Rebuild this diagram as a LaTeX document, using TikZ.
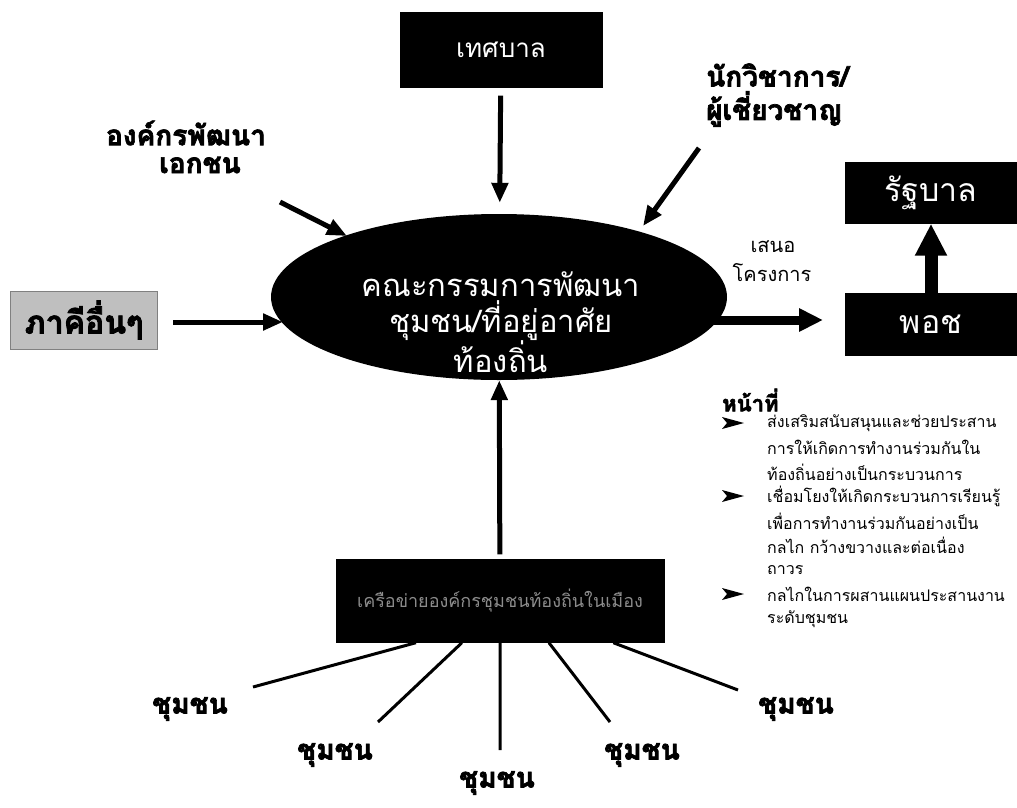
\documentclass[tikz,border=0pt]{standalone}
\usepackage{fontspec}
\newfontfamily\thai[Script=Thai]{Loma}
\newfontfamily\thaiheavy[Script=Thai,FakeBold=2.5]{Loma}
\usetikzlibrary{arrows.meta,shapes.geometric,calc}
\newcommand\tf[2]{\fontsize{#1}{#2}\selectfont}
\begin{document}
\begin{tikzpicture}[x=1pt,y=-1pt,
  font=\thai,
  blackbox/.style={draw=black,fill=black,text=white,inner sep=0pt},
  boldlbl/.style={font=\thaiheavy\bfseries\tf{28}{30},inner sep=0pt},
  arr/.style={line width=5pt,-{Triangle[length=20pt,width=16pt]}},
  fatarr/.style={line width=9pt,-{Triangle[length=24pt,width=22pt]}},
  bigarr/.style={line width=13pt,-{Triangle[length=32pt,width=30pt]}},
  spoke/.style={line width=3pt},
  bul/.style={anchor=west,inner sep=0pt,font=\thai\tf{16}{18}},
  bulmark/.style={fill=black}]
\useasboundingbox[fill=white] (0,0) rectangle (1017,807);

% top box
\node[blackbox,minimum width=202pt,minimum height=75pt,font=\thai\tf{26}{30}] (tes) at (501,50) {เทศบาล};

% labels
\node[boldlbl] (ngo1) at (186,133) {องค์กรพัฒนา};
\node[boldlbl] (ngo2) at (200,165) {เอกชน};
\node[boldlbl,anchor=west] (exp1) at (706,75) {นักวิชาการ/};
\node[boldlbl,anchor=west] (exp2) at (706,109) {ผู้เชี่ยวชาญ};

% central ellipse
\node[ellipse,fill=black,minimum width=456pt,minimum height=166pt,inner sep=0pt] (com) at (499,297) {};
\node[text=white,font=\thai\tf{31}{36},inner sep=0pt] (com1) at (501,284) {คณะกรรมการพัฒนา};
\node[text=white,font=\thai\tf{31}{36},inner sep=0pt] (com2) at (501,321) {ชุมชน/ที่อยู่อาศัย};
\node[text=white,font=\thai\tf{31}{36},inner sep=0pt] (com3) at (501,357) {ท้องถิ่น};

% left partner box
\node[draw=black!50,fill=black!25,minimum width=147pt,minimum height=58pt,inner sep=0pt,
      font=\thaiheavy\bfseries\tf{32}{34}] (bhaki) at (84,320) {ภาคีอื่นๆ};

% right boxes
\node[blackbox,minimum width=172pt,minimum height=61pt,font=\thai\tf{32}{36}] (rat) at (931,193) {รัฐบาล};
\node[blackbox,minimum width=172pt,minimum height=62pt,font=\thai\tf{32}{36}] (podh) at (931,324) {พอช};
\node[inner sep=0pt,font=\thai\tf{20}{22}] (sn1) at (773,247) {เสนอ};
\node[inner sep=0pt,font=\thai\tf{20}{22}] (sn2) at (772,273) {โครงการ};

% duties
\node[anchor=west,inner sep=0pt,font=\thaiheavy\bfseries\tf{22}{26}] (duty) at (722,400) {หน้าที่};
\node[bul] (b11) at (767,423) {ส่งเสริมสนับสนุนและช่วยประสาน};
\node[bul] (b12) at (767,447) {การให้เกิดการทำงานร่วมกันใน};
\node[bul] (b13) at (767,472) {ท้องถิ่นอย่างเป็นกระบวนการ};
\node[bul] (b21) at (767,496) {เชื่อมโยงให้เกิดกระบวนการเรียนรู้};
\node[bul] (b22) at (767,521) {เพื่อการทำงานร่วมกันอย่างเป็น};
\node[bul] (b23) at (767,545) {กลไก กว้างขวางและต่อเนื่อง};
\node[bul] (b24) at (767,570) {ถาวร};
\node[bul] (b31) at (767,594) {กลไกในการผสานแผนประสานงาน};
\node[bul] (b32) at (767,619) {ระดับชุมชน};
\foreach \yy in {423,496,594}{
  \fill[bulmark] (722,\yy-6) -- (744,\yy) -- (722,\yy+6) -- (727,\yy) -- cycle;
}

% bottom network box
\node[blackbox,minimum width=328pt,minimum height=83pt,text=black!45,font=\thai\tf{18}{22}] (net) at (500,601) {เครือข่ายองค์กรชุมชนท้องถิ่นในเมือง};

% community labels
\node[boldlbl] (c1) at (190,709) {ชุมชน};
\node[boldlbl] (c2) at (335,755) {ชุมชน};
\node[boldlbl] (c3) at (497,783) {ชุมชน};
\node[boldlbl] (c4) at (642,755) {ชุมชน};
\node[boldlbl] (c5) at (796,709) {ชุมชน};
\coordinate (e1) at (253,687);
\coordinate (e2) at (378,722);
\coordinate (e3) at (500,750);
\coordinate (e4) at (610,722);
\coordinate (e5) at (738,690);
\draw[spoke] ($(net.south west)!0.244!(net.south east)$) -- (e1);
\draw[spoke] ($(net.south west)!0.384!(net.south east)$) -- (e2);
\draw[spoke] ($(net.south west)!0.5!(net.south east)$) -- (e3);
\draw[spoke] ($(net.south west)!0.649!(net.south east)$) -- (e4);
\draw[spoke] ($(net.south west)!0.845!(net.south east)$) -- (e5);

% arrows into the committee
\draw[arr,shorten <=8pt,shorten >=11pt] (tes) -- (com);
\coordinate (ngoA) at (280,202);
\coordinate (ngoB) at (347,236);
\draw[arr] (ngoA) -- (ngoB);
\coordinate (expA) at (699,148);
\coordinate (expB) at (643,226);
\draw[arr] (expA) -- (expB);
\coordinate (bkA) at (173,322);
\coordinate (bkB) at (283,322);
\draw[arr] (bkA) -- (bkB);
\draw[arr,shorten <=5pt] (net) -- (com);

% arrows to CODI and government
\coordinate (pA) at (713,320);
\coordinate (pB) at (823,320);
\draw[fatarr] (pA) -- (pB);
\draw[bigarr] (podh.north) -- (rat.south);
\end{tikzpicture}
\end{document}
